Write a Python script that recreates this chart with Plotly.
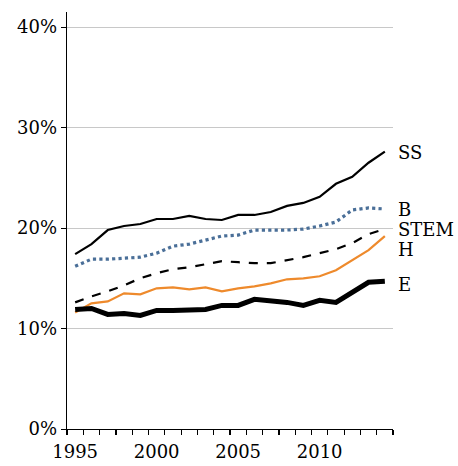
import plotly.graph_objects as go

years = list(range(1995, 2015))
ss = [17.4, 18.4, 19.8, 20.2, 20.4, 20.9, 20.9, 21.2, 20.9, 20.8, 21.3, 21.3, 21.6, 22.2, 22.5, 23.1, 24.4, 25.1, 26.5, 27.6]
b = [16.2, 16.9, 16.9, 17.0, 17.1, 17.5, 18.2, 18.4, 18.8, 19.2, 19.3, 19.8, 19.8, 19.8, 19.9, 20.2, 20.6, 21.8, 22.0, 21.9]
stem = [12.6, 13.2, 13.7, 14.3, 15.0, 15.5, 15.9, 16.1, 16.4, 16.7, 16.6, 16.5, 16.5, 16.8, 17.1, 17.5, 17.9, 18.5, 19.4, 19.9]
h = [11.6, 12.5, 12.7, 13.5, 13.4, 14.0, 14.1, 13.9, 14.1, 13.7, 14.0, 14.2, 14.5, 14.9, 15.0, 15.2, 15.8, 16.8, 17.8, 19.2]
e = [11.9, 12.0, 11.4, 11.5, 11.3, 11.8, 11.8, 11.8, 11.9, 12.3, 12.3, 12.9, 12.8, 12.6, 12.3, 12.8, 12.6, 13.6, 14.6, 14.7]
series_names = ["SS", "B", "STEM", "H", "E"]
label_y = [27.5, 21.8, 19.9, 17.9, 14.4]
x_labels = [1995, 2000, 2005, 2010]
y_ticks = [0, 10, 20, 30, 40]

FONT = "DejaVu Serif"
styles = {
    "SS": dict(color="black", width=2.2, dash="solid"),
    "B": dict(color="#4a6f98", width=3.2, dash="dot"),
    "STEM": dict(color="black", width=2.2, dash="dash"),
    "H": dict(color="#ee8a2c", width=2.2, dash="solid"),
    "E": dict(color="black", width=5, dash="solid"),
}
data = {"SS": ss, "B": b, "STEM": stem, "H": h, "E": e}

fig = go.Figure()
for name in ["H", "STEM", "B", "SS", "E"]:
    fig.add_trace(go.Scatter(x=years, y=data[name], mode="lines", name=name,
                             line=styles[name], showlegend=False, hoverinfo="skip"))

for name, ly in zip(series_names, label_y):
    fig.add_annotation(x=2014.5, y=ly, xref="x", yref="y", text=name, showarrow=False,
                       xanchor="left", yanchor="middle", xshift=3,
                       font=dict(family=FONT, size=18, color="black"))

fig.update_layout(
    width=458, height=466,
    margin=dict(l=67, r=65, t=12, b=37),
    paper_bgcolor="white", plot_bgcolor="white",
    font=dict(family=FONT, size=18, color="black"),
    xaxis=dict(range=[1994.5, 2014.5], tickmode="array", tickvals=x_labels,
               ticktext=[str(v) for v in x_labels], ticks="", ticklen=0,
               ticklabelstandoff=6,
               showgrid=False, showline=True, linecolor="black", linewidth=1.3,
               zeroline=False, automargin=False,
               tickfont=dict(family=FONT, size=18, color="black"),
               minor=dict(tick0=1994.5, dtick=1, ticks="outside", ticklen=5,
                          tickcolor="black", tickwidth=1.2, showgrid=False)),
    yaxis=dict(range=[0, 41.5], tickmode="array", tickvals=y_ticks,
               ticktext=[f"{v}%" for v in y_ticks], ticks="outside", ticklen=5,
               tickcolor="black", showgrid=True, gridcolor="#c8c8c8", gridwidth=1,
               showline=True, linecolor="black", linewidth=1.3, zeroline=False,
               automargin=False,
               tickfont=dict(family=FONT, size=18, color="black")),
)

fig.write_html("out.html", config={"displayModeBar": False, "staticPlot": True},
               post_script="document.body.style.margin='0';document.body.style.overflow='hidden';")
